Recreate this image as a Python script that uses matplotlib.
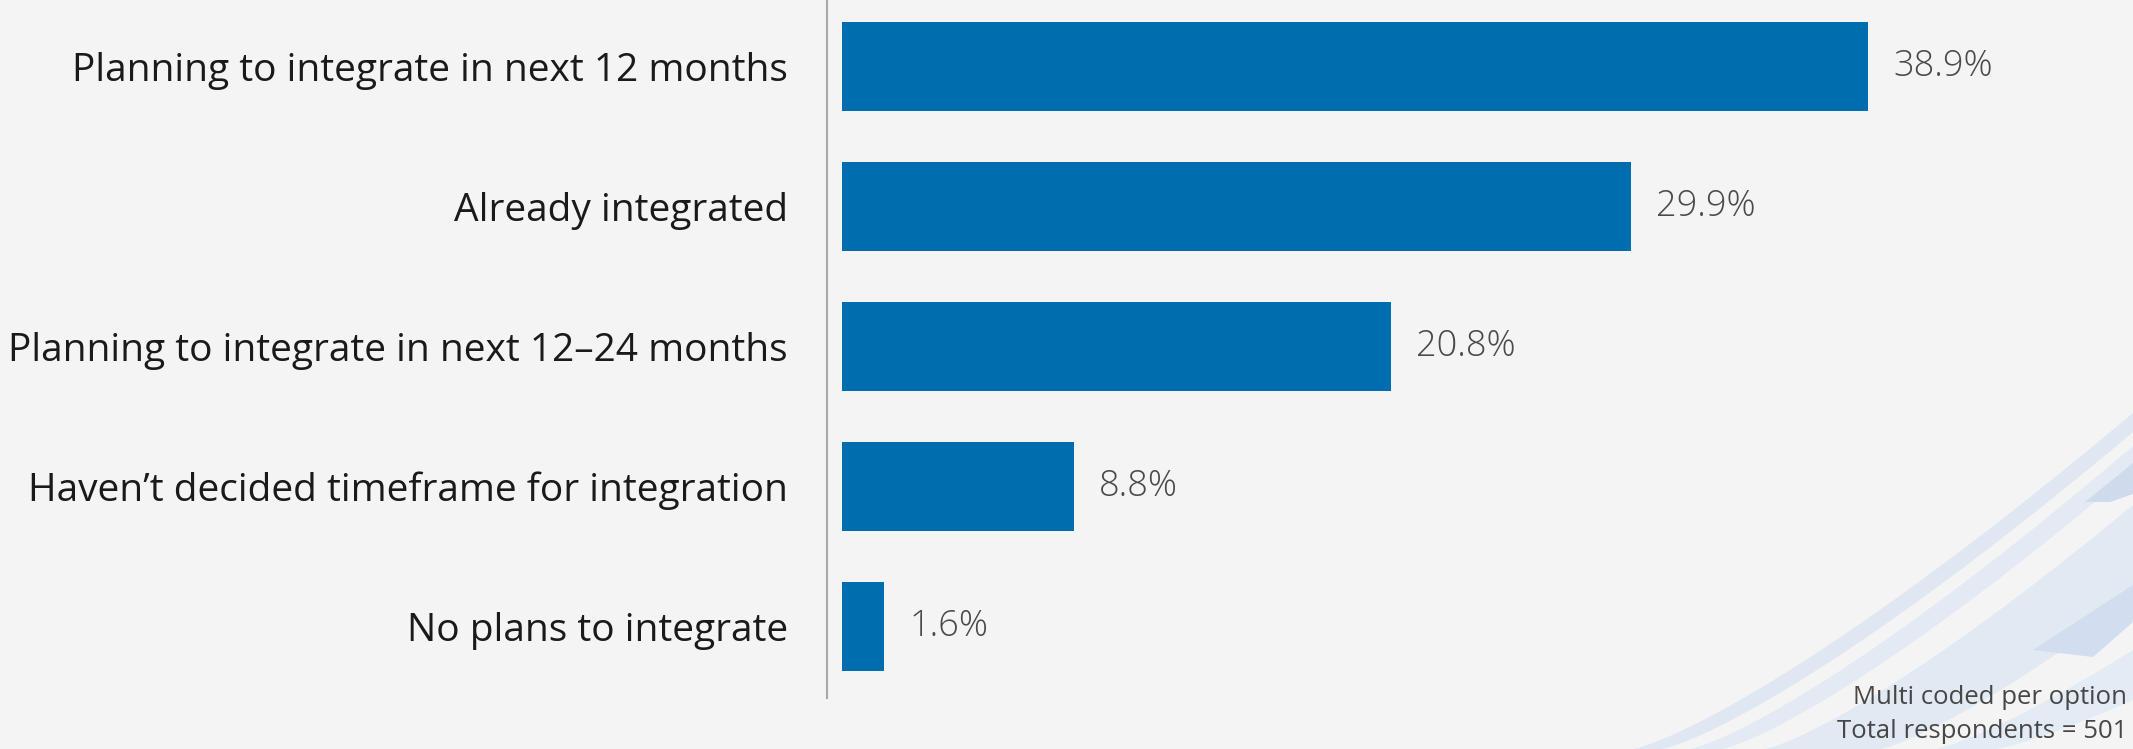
import numpy as np
import matplotlib.pyplot as plt
from matplotlib.patches import Polygon

# survey results
categories = [
    "Planning to integrate in next 12 months",
    "Already integrated",
    "Planning to integrate in next 12\u201324 months",
    "Haven\u2019t decided timeframe for integration",
    "No plans to integrate",
]
values = [38.9, 29.9, 20.8, 8.8, 1.6]
note_lines = ["Multi coded per option", "Total respondents = 501"]

bg = "#f4f4f4"
bar_color = "#006dae"
W, H = 2133, 749

plt.rcParams["font.family"] = ["Open Sans", "DejaVu Sans"]

fig = plt.figure(figsize=(W / 100, H / 100), dpi=100, facecolor=bg)

# decorative swoosh in the lower right corner (pixel coords, y down)
deco = fig.add_axes([0, 0, 1, 1], zorder=0)
deco.set_xlim(0, W)
deco.set_ylim(H, 0)
deco.axis("off")
deco.set_facecolor(bg)


def arc(xb, yr, p=1.25, n=60):
    # from the bottom edge at xb up to the right edge at yr
    xs = np.linspace(xb, W, n)
    t = (xs - xb) / (W - xb)
    return xs, H - (H - yr) * t ** p


def band(outer, inner, color, alpha=1.0):
    xo, yo = arc(*outer)
    xi, yi = arc(*inner)
    pts = np.vstack([np.column_stack([xo, yo]), np.column_stack([xi, yi])[::-1]])
    deco.add_patch(Polygon(pts, closed=True, fc=color, ec="none", alpha=alpha))


band((1633, 413), (1662, 432), "#dfe7f2")
band((1690, 446), (1722, 470), "#e3eaf4")
band((1765, 505), (1880, 600), "#e1e9f3")
band((1935, 650), (1995, 700), "#e3ebf5")

deco.add_patch(Polygon([[2085, 502], [2133, 463], [2133, 494], [2110, 502]],
                       fc="#cfdbed", ec="none"))
deco.add_patch(Polygon([[2033, 650], [2133, 585], [2133, 622], [2093, 657]],
                       fc="#d2deef", ec="none"))

# bar chart
ax = fig.add_axes([827 / W, 1 - 698 / H, (W - 827) / W, 698 / H], zorder=1)
ax.patch.set_alpha(0)
y = np.arange(len(categories))
ax.barh(y, values, height=0.636, color=bar_color, left=0)

px_per_unit = 26.38
ax.set_xlim(-15 / px_per_unit, (W - 827 - 15) / px_per_unit)
ax.set_ylim(4.51, -0.475)

for yi, v in zip(y, values):
    ax.annotate(f"{v}%", (v, yi), xytext=(18, 0), textcoords="offset points",
                va="center", ha="left", fontsize=26, color="#4a4a4a",
                fontweight="light")

ax.set_yticks(y)
ax.set_yticklabels(categories, fontsize=28, color="#1a1a1a")
ax.tick_params(axis="y", length=0, pad=28)
ax.set_xticks([])
for s in ["top", "right", "bottom"]:
    ax.spines[s].set_visible(False)
ax.spines["left"].set_color("#a8a8a8")
ax.spines["left"].set_linewidth(1.5)

fig.text(2127 / W, 1 - 698 / H, note_lines[0], ha="right", va="center",
         fontsize=18.5, color="#474747")
fig.text(2127 / W, 1 - 731 / H, note_lines[1], ha="right", va="center",
         fontsize=18.5, color="#474747")

fig.savefig("out.png", dpi=100, facecolor=bg)
